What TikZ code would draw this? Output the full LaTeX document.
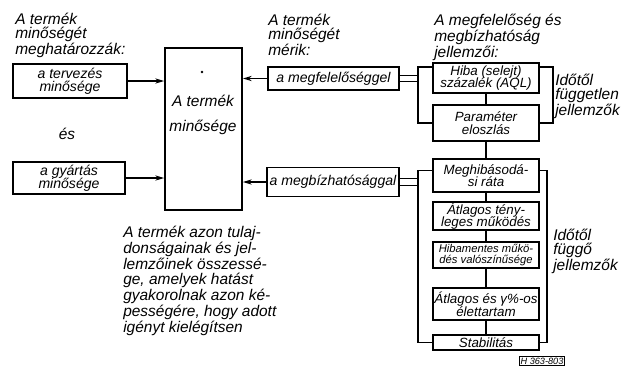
\documentclass[tikz,border=0pt]{standalone}
\usepackage{fontspec}
\setmainfont{Liberation Sans}
\usetikzlibrary{arrows.meta,calc,positioning}
\def\pxu{0.025cm}
\tikzset{
  txt/.style={font=\itshape\fontsize{11}{10}\selectfont,align=left,inner sep=0pt,text=black},
  qbox/.style={draw,line width=1.3pt,align=center,inner sep=0.5pt,
               font=\itshape\fontsize{10}{9.5}\selectfont},
  jbox/.style={qbox,minimum width=106*\pxu,font=\itshape\fontsize{9.5}{9}\selectfont},
  flow/.style={-{Stealth[length=2.2mm,width=1.3mm]},line width=0.9pt},
  wire/.style={line width=0.9pt},
  dbl/.style={double,double distance=4pt,line width=0.6pt}
}

\begin{document}
\begin{tikzpicture}[x=0.025cm,y=-0.025cm]
        \useasboundingbox (0,0) rectangle (629,378);
        % headings
        \node[txt,anchor=north west] (fej1) at (15,13) {A termék\\minőségét\\meghatározzák:};
        \node[txt,anchor=north west] (fej2) at (268,14) {A termék\\minőségét\\mérik:};
        \node[txt,anchor=north west] (fej3) at (434,14) {A megfelelőség és\\megbízhatóság\\jellemzői:};
        % left side
        \node[qbox,minimum width=114*\pxu,minimum height=34*\pxu] (terv) at (70,81) {a tervezés\\minősége};
        \node[txt] (es) at (67,134) {és};
        \node[qbox,minimum width=112*\pxu,minimum height=32*\pxu] (gyart) at (69,178) {a gyártás\\minősége};
        \node[qbox,minimum width=77*\pxu,minimum height=162*\pxu] (term) at (203.5,129) {};
        \node[txt,align=center] (termtxt) at (203,115) {A termék\\[8pt]minősége};
        \fill (202,72) circle (1pt);
        \node[txt,anchor=north west,font=\itshape\fontsize{11}{10.3}\selectfont] (leiras) at (123,226)
          {A termék azon tulaj-\\donságainak és jel-\\lemzőinek összessé-\\ge, amelyek hatást\\gyakorolnak azon ké-\\pességére, hogy adott\\igényt kielégítsen};
        % measured by
        \node[qbox,minimum width=131*\pxu,minimum height=23*\pxu] (megf) at (333.5,78.5) {a megfelelőséggel};
        \node[qbox,minimum width=132*\pxu,minimum height=29*\pxu] (megb) at (333,182) {a megbízhatósággal};
        % characteristics
        \node[jbox,minimum height=30*\pxu] (hiba) at (486,78) {Hiba (selejt)\\százalék (AQL)};
        \node[jbox,minimum height=36*\pxu] (param) at (486,123) {Paraméter\\eloszlás};
        \node[jbox,minimum height=33*\pxu] (meghib) at (486,175.5) {Meghibásodá-\\si ráta};
        \node[jbox,minimum height=28*\pxu] (atlag) at (486,216) {Átlagos tény-\\leges működés};
        \node[jbox,minimum height=26*\pxu,font=\itshape\fontsize{8}{8}\selectfont] (hibam) at (486,255) {Hibamentes műkö-\\dés valószínűsége};
        \node[jbox,minimum height=32*\pxu] (elet) at (486,304) {Átlagos és γ\%-os\\élettartam};
        \node[jbox,minimum height=15*\pxu] (stab) at (486,342.5) {Stabilitás};
        \node[txt,anchor=north west] (fugg1) at (555,74) {Időtől\\független\\jellemzők};
        \node[txt,anchor=north west] (fugg2) at (553,229) {Időtől\\függő\\jellemzők};
        \node[draw,line width=0.5pt,inner sep=1pt,font=\itshape\fontsize{6.5}{7}\selectfont] (jel) at (542,361) {H 363-803};
        % connectors
        \draw[flow] (terv.east) -- (terv.east -| term.west);
        \draw[flow] (gyart.east) -- (gyart.east -| term.west);
        \draw[flow] (megf.west) -- (megf.west -| term.east);
        \draw[flow] (megb.west) -- (megb.west -| term.east);
        \coordinate (bal) at (418,0);
        \coordinate (jobb1) at (553,0);
        \coordinate (jobb2) at (547,0);
        \draw[dbl] (megf.east) -- (megf.east -| bal);
        \draw[dbl] (megb.east) -- (megb.east -| bal);
        \draw[wire] ([yshift=-3.5pt]hiba.north west) -| (bal |- param.west) -- (param.west);
        \draw[wire] ([yshift=-3.5pt]hiba.north east) -| (jobb1 |- param.east) -- (param.east);
        \draw[wire] ([yshift=-9pt]meghib.north west) -| (bal |- stab.west) -- (stab.west);
        \draw[wire] ([yshift=-9pt]meghib.north east) -| (jobb2 |- stab.east) -- (stab.east);
        \foreach \a/\b in {hiba/param,param/meghib,meghib/atlag,atlag/hibam,hibam/elet,elet/stab}
          {\draw[wire] (\a) -- (\b);}
      \end{tikzpicture}
\end{document}
